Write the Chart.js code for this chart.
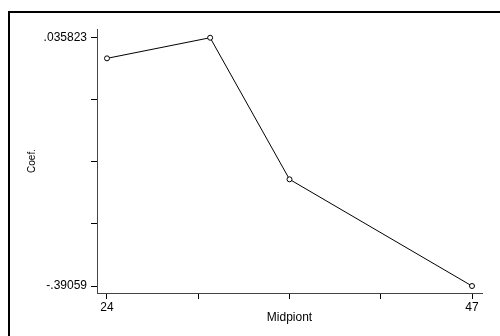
<!DOCTYPE html>
<html>
<head>
<meta charset="utf-8">
<script src="https://cdn.jsdelivr.net/npm/chart.js@4"></script>
<style>
  body { margin: 0; background: #fff; }
  #wrap { position: relative; width: 500px; height: 336px; overflow: hidden; }
  #frame { position: absolute; left: 8px; top: 11px; width: 600px; height: 400px;
           border-left: 2px solid #000; border-top: 2px solid #000; pointer-events: none; }
</style>
</head>
<body>
<div id="wrap">
  <canvas id="canvas" width="500" height="336"></canvas>
  <div id="frame"></div>
</div>
<script>
"use strict";

const midpoints = [24, 30.5, 35.5, 47];
const coefs = [0.0004, 0.035823, -0.2074, -0.39059];
const xTicks = [24, 29.75, 35.5, 41.25, 47];
const xTickLabels = ['24', '', '', '', '47'];
const yTicks = [-0.39059, -0.283987, -0.177384, -0.070780, 0.035823];
const yTickLabels = ['-.39059', '', '', '', '.035823'];

const font = "'Liberation Sans', Arial, Helvetica, sans-serif";

window.onload = function () {
    const ctx = document.getElementById('canvas').getContext('2d');
    window.myLine = new Chart(ctx, {
        type: 'scatter',
        data: {
            datasets: [{
                label: 'Coef.',
                data: midpoints.map((m, i) => ({ x: m, y: coefs[i] })),
                showLine: true,
                borderColor: '#000',
                borderWidth: 1,
                tension: 0,
                pointRadius: 2.5,
                pointBorderWidth: 1,
                pointBorderColor: '#000',
                pointBackgroundColor: '#fff'
            }]
        },
        options: {
            responsive: false,
            animation: false,
            layout: { padding: { left: 0, top: 29, right: 18, bottom: 0 } },
            plugins: {
                legend: { display: false },
                tooltip: { enabled: false }
            },
            scales: {
                x: {
                    type: 'linear',
                    min: 23.37,
                    max: 47.63,
                    afterBuildTicks: function (scale) {
                        scale.ticks = xTicks.map(v => ({ value: v }));
                    },
                    afterFit: function (scale) { scale.height = 43; },
                    grid: { drawOnChartArea: false, drawTicks: true, tickLength: 6, color: '#000' },
                    border: { display: true, color: '#444', width: 1 },
                    ticks: {
                        autoSkip: false,
                        maxRotation: 0,
                        padding: 1,
                        color: '#000',
                        font: { family: font, size: 12 },
                        callback: function (v, i) { return xTickLabels[i]; }
                    },
                    title: {
                        display: true,
                        text: 'Midpiont',
                        color: '#000',
                        font: { family: font, size: 12 },
                        padding: { top: 0, bottom: 11 }
                    }
                },
                y: {
                    type: 'linear',
                    min: -0.4026,
                    max: 0.0508,
                    afterBuildTicks: function (scale) {
                        scale.ticks = yTicks.map(v => ({ value: v }));
                    },
                    afterFit: function (scale) { scale.width = 97; },
                    grid: { drawOnChartArea: false, drawTicks: true, tickLength: 6, color: '#000' },
                    border: { display: true, color: '#444', width: 1 },
                    ticks: {
                        autoSkip: false,
                        padding: 4,
                        color: '#000',
                        font: { family: font, size: 12 },
                        callback: function (v, i) { return yTickLabels[i]; }
                    },
                    title: {
                        display: true,
                        text: 'Coef.',
                        color: '#000',
                        font: { family: font, size: 10 },
                        padding: { top: 26.5, bottom: 0 }
                    }
                }
            }
        }
    });
};
</script>
</body>
</html>
